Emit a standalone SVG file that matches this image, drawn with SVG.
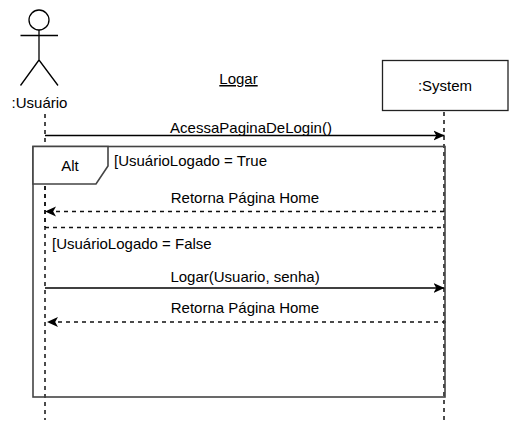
<svg xmlns="http://www.w3.org/2000/svg" width="517" height="422" viewBox="0 0 517 422">
<style>
text{font-family:"Liberation Sans",Arial,sans-serif;font-size:15px;fill:#000}
.m{text-anchor:middle}
.s{fill:none;stroke:#000;stroke-width:1.3}
.f{fill:none;stroke:#444;stroke-width:1.6}
.l{fill:none;stroke:#111;stroke-width:1.5;stroke-dasharray:4 4}
.d{fill:none;stroke:#111;stroke-width:1.3;stroke-dasharray:4 4}
.a{fill:none;stroke:#000;stroke-width:1.4}
</style>
<defs>
<marker id="h" markerUnits="userSpaceOnUse" markerWidth="12" markerHeight="12" refX="11" refY="6" orient="auto"><path d="M0 1L11 6L0 11L2.800 6Z" fill="#000"/></marker>
</defs>
<rect width="517" height="422" fill="#fff"/>
<g id="actor-usuario">
<circle class="s" cx="39" cy="20" r="10"/>
<path class="s" d="M39 30V60M20.500 35.500H58M39 60L20.500 85.500M39 60L58 85.500"/>
<text class="m" x="39.500" y="108">:Usuário</text>
</g>
<g id="title"><text class="m" x="238.500" y="84" text-decoration="underline">Logar</text></g>
<g id="system">
<rect x="382.500" y="60.500" width="125.500" height="50" fill="#fff" stroke="#222" stroke-width="1.300"/>
<text class="m" x="445" y="91">:System</text>
</g>
<g id="connectors">
<path class="l" d="M45 114V420"/>
<path class="l" d="M444 112V420"/>
<path class="a" marker-end="url(#h)" d="M45 135.500H444.500"/>
<path class="d" marker-end="url(#h)" d="M444 211.500H45"/>
<path class="d" d="M45 227.500H444"/>
<path class="a" marker-end="url(#h)" d="M45 288H444.500"/>
<path class="d" marker-end="url(#h)" d="M446 322H47"/>
</g>
<g id="frame-alt">
<rect class="f" x="33" y="146.500" width="412" height="250.500"/>
<path class="f" d="M33 146.500H108V166L96 184H33Z" style="fill:#fff"/>
<path class="l" d="M45 186V227"/>
<text class="m" x="70" y="171">Alt</text>
<text x="114" y="166">[UsuárioLogado = True</text>
<text x="52" y="249">[UsuárioLogado = False</text>
</g>
<g id="labels">
<text class="m" x="251" y="133">AcessaPaginaDeLogin()</text>
<text class="m" x="245" y="203">Retorna Página Home</text>
<text class="m" x="245" y="282">Logar(Usuario, senha)</text>
<text class="m" x="245" y="313">Retorna Página Home</text>
</g>
</svg>
